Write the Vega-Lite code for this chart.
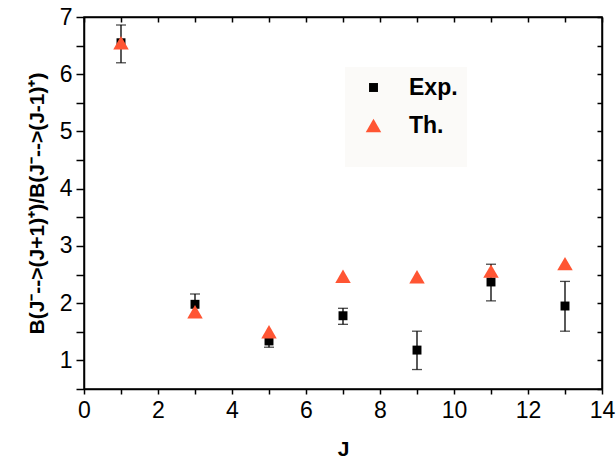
{
  "$schema": "https://vega.github.io/schema/vega-lite/v6.json",
  "autosize": "none",
  "width": 518,
  "height": 372,
  "padding": {"left": 84, "top": 17, "right": 14, "bottom": 78},
  "background": "white",
  "config": {
    "font": "Liberation Sans",
    "view": {"stroke": "black", "strokeWidth": 1.5},
    "axis": {
      "grid": false,
      "domainColor": "black",
      "domainWidth": 1.5,
      "tickColor": "black",
      "tickWidth": 1.5,
      "labelColor": "black",
      "labelFont": "Liberation Sans",
      "labelFontSize": 23,
      "titleFont": "Liberation Sans",
      "titleFontSize": 21,
      "titleFontWeight": "bold",
      "titleColor": "black"
    },
    "legend": {
      "labelFont": "Liberation Sans",
      "labelFontSize": 23,
      "labelFontWeight": "bold",
      "labelColor": "black",
      "titleFont": "Liberation Sans"
    }
  },
  "data": {
    "values": [
      {"J": 1, "value": 6.55, "series": "Exp.", "lo": 6.20, "hi": 6.86},
      {"J": 3, "value": 1.98, "series": "Exp.", "lo": 1.80, "hi": 2.16},
      {"J": 5, "value": 1.34, "series": "Exp.", "lo": 1.23, "hi": 1.44},
      {"J": 7, "value": 1.78, "series": "Exp.", "lo": 1.63, "hi": 1.91},
      {"J": 9, "value": 1.18, "series": "Exp.", "lo": 0.84, "hi": 1.51},
      {"J": 11, "value": 2.37, "series": "Exp.", "lo": 2.04, "hi": 2.68},
      {"J": 13, "value": 1.95, "series": "Exp.", "lo": 1.51, "hi": 2.38},
      {"J": 1, "value": 6.55, "series": "Th."},
      {"J": 3, "value": 1.85, "series": "Th."},
      {"J": 5, "value": 1.50, "series": "Th."},
      {"J": 7, "value": 2.47, "series": "Th."},
      {"J": 9, "value": 2.46, "series": "Th."},
      {"J": 11, "value": 2.56, "series": "Th."},
      {"J": 13, "value": 2.69, "series": "Th."}
    ]
  },
  "layer": [
    {
      "transform": [{"filter": "datum.series === 'Exp.'"}],
      "mark": {"type": "errorbar", "color": "black", "thickness": 1.3, "ticks": {"size": 10, "thickness": 1.3, "color": "black"}},
      "encoding": {
        "x": {
          "field": "J", "type": "quantitative",
          "scale": {"domain": [0, 14], "nice": false, "zero": false},
          "axis": {
            "orient": "bottom", "title": "J",
            "values": [0, 1, 2, 3, 4, 5, 6, 7, 8, 9, 10, 11, 12, 13, 14],
            "labelExpr": "datum.value % 2 === 0 ? format(datum.value, 'd') : ''",
            "tickSize": 5, "labelPadding": 5, "titlePadding": 16, "labelFlush": false
          }
        },
        "y": {
          "field": "lo", "type": "quantitative",
          "scale": {"domain": [0.5, 7], "nice": false, "zero": false},
          "axis": {
            "orient": "left",
            "title": "B(J⁻-->(J+1)⁺)/B(J⁻-->(J-1)⁺)",
            "values": [0.5, 1, 1.5, 2, 2.5, 3, 3.5, 4, 4.5, 5, 5.5, 6, 6.5, 7],
            "labelExpr": "datum.value % 1 === 0 ? format(datum.value, 'd') : ''",
            "tickSize": 8, "labelPadding": 4, "titlePadding": 12, "labelFlush": false
          }
        },
        "y2": {"field": "hi"}
      }
    },
    {
      "mark": {"type": "point", "filled": true, "opacity": 1, "strokeWidth": 0},
      "encoding": {
        "x": {"field": "J", "type": "quantitative", "axis": {"orient": "top", "title": null, "labels": false, "tickSize": -5, "values": [0, 1, 2, 3, 4, 5, 6, 7, 8, 9, 10, 11, 12, 13, 14]}},
        "y": {"field": "value", "type": "quantitative", "axis": {"orient": "right", "title": null, "labels": false, "tickSize": -5, "values": [0.5, 1, 1.5, 2, 2.5, 3, 3.5, 4, 4.5, 5, 5.5, 6, 6.5, 7]}},
        "shape": {
          "field": "series", "type": "nominal",
          "scale": {"domain": ["Exp.", "Th."], "range": ["square", "triangle-up"]},
          "legend": {
            "orient": "none", "legendX": 261, "legendY": 50,
            "title": " ", "titleOrient": "bottom", "titleFontSize": 16, "titlePadding": 4,
            "fillColor": "#fbfaf8", "strokeColor": null,
            "padding": 9, "rowPadding": 14,
            "symbolOffset": 8, "labelOffset": 24,
            "symbolStrokeWidth": 0
          }
        },
        "color": {"field": "series", "type": "nominal", "scale": {"domain": ["Exp.", "Th."], "range": ["black", "#ff5533"]}},
        "size": {"field": "series", "type": "nominal", "scale": {"domain": ["Exp.", "Th."], "range": [80, 240]}}
      }
    }
  ],
  "resolve": {"axis": {"x": "independent", "y": "independent"}}
}
